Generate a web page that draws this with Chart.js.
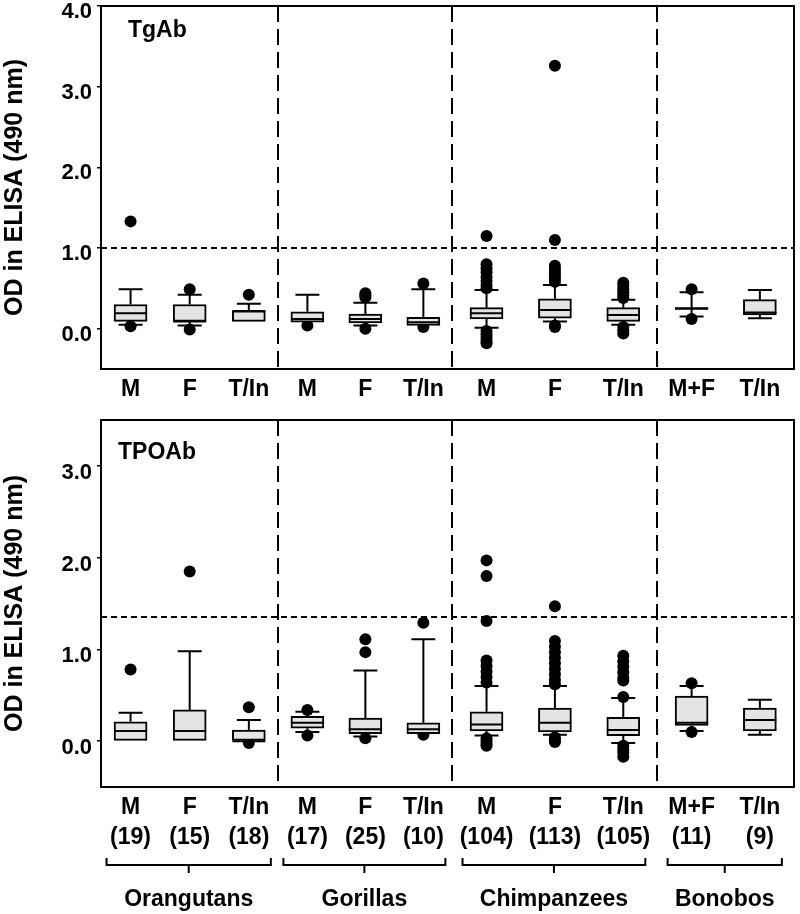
<!DOCTYPE html>
<html>
<head>
<meta charset="utf-8">
<script src="https://cdn.jsdelivr.net/npm/chart.js@4.4.1/dist/chart.umd.min.js"></script>
<style>
  html, body { margin: 0; padding: 0; background: #fff; }
  #wrap { position: relative; width: 800px; height: 914px; }
  #tg { position: absolute; left: 0; top: 0; }
  #tpo { position: absolute; left: 0; top: 410px; }
</style>
</head>
<body>
<div id="wrap">
  <canvas id="tg" width="800" height="410"></canvas>
  <canvas id="tpo" width="800" height="504"></canvas>
</div>
<script>
// ------------------- DATOS -------------------
const categories = ['M', 'F', 'T/In', 'M', 'F', 'T/In', 'M', 'F', 'T/In', 'M+F', 'T/In'];
const groups = ['Orangutans', 'Gorillas', 'Chimpanzees', 'Bonobos'];
const groupSizes = [3, 3, 3, 2];
const sampleSizes = [19, 15, 18, 17, 25, 10, 104, 113, 105, 11, 9];

// TgAb (OD 490 nm)
const tgLow  = [0.05, 0.04, 0.09, 0.08, 0.04, 0.04, 0.01, 0.09, 0.05, 0.15, 0.13];
const tgQ1   = [0.09, 0.09, 0.09, 0.08, 0.07, 0.04, 0.12, 0.13, 0.09, 0.24, 0.17];
const tgMed  = [0.19, 0.09, 0.22, 0.12, 0.12, 0.08, 0.19, 0.23, 0.17, 0.25, 0.20];
const tgQ3   = [0.30, 0.30, 0.22, 0.21, 0.18, 0.14, 0.26, 0.37, 0.26, 0.26, 0.36];
const tgHigh = [0.49, 0.42, 0.31, 0.42, 0.32, 0.49, 0.48, 0.54, 0.36, 0.45, 0.48];
const tgOutliers = [
  [1.33, 0.03],
  [0.49, -0.01],
  [0.42],
  [0.04],
  [0.44, 0.41, 0.39, 0.0],
  [0.56, 0.02],
  [1.15, 0.80, 0.75, 0.70, 0.64, 0.59, 0.54, 0.50, -0.03, -0.07, -0.11, -0.15, -0.18],
  [3.26, 1.10, 0.78, 0.74, 0.70, 0.66, 0.62, 0.58, 0.04, 0.02],
  [0.57, 0.53, 0.49, 0.45, 0.41, 0.38, 0.02, -0.02, -0.06],
  [0.49, 0.12],
  []
];
const tgCutoff = 1.0;
const tgTicks = [0, 1, 2, 3, 4];

// TPOAb (OD 490 nm)
const tpoLow  = [0.0, 0.0, 0.0, 0.10, 0.05, 0.08, 0.06, 0.07, -0.02, 0.11, 0.07];
const tpoQ1   = [0.0, 0.0, 0.0, 0.14, 0.08, 0.08, 0.11, 0.10, 0.06, 0.17, 0.11];
const tpoMed  = [0.11, 0.11, 0.0, 0.20, 0.13, 0.13, 0.18, 0.20, 0.12, 0.20, 0.23];
const tpoQ3   = [0.21, 0.34, 0.12, 0.27, 0.25, 0.20, 0.32, 0.36, 0.26, 0.49, 0.36];
const tpoHigh = [0.31, 0.98, 0.23, 0.32, 0.77, 1.11, 0.60, 0.60, 0.47, 0.60, 0.45];
const tpoOutliers = [
  [0.78],
  [1.85],
  [0.37, -0.02],
  [0.34, 0.06],
  [1.11, 0.97, 0.03],
  [1.29, 0.07],
  [1.97, 1.80, 1.31, 0.88, 0.82, 0.76, 0.70, 0.64, 0.03, 0.0, -0.03, -0.05],
  [1.47, 1.09, 1.03, 0.97, 0.91, 0.85, 0.79, 0.73, 0.67, 0.62, 0.04, 0.01, -0.01],
  [0.93, 0.87, 0.81, 0.75, 0.69, 0.66, 0.48, -0.05, -0.09, -0.13, -0.17],
  [0.63, 0.10],
  []
];
const tpoCutoff = 1.35;
const tpoTicks = [0, 1, 2, 3];

// ------------------- LAYOUT -------------------
// bordes de cada grupo en el eje x (0 - 100)
const groupEdges = [0, 25.6, 50.7, 80.3, 100];
const xPos = [];
groupSizes.forEach((n, g) => {
  let a = groupEdges[g], b = groupEdges[g + 1];
  for (let i = 0; i < n; i++) xPos.push(a + (i + 0.5) * (b - a) / n);
});

const FONT = "'Liberation Sans', Arial, sans-serif";
const BOX_W = 33;
const CAP_W = 24;

function boxPlugin(s) {
  return {
    id: 'boxParts',
    beforeDatasetsDraw(chart) {
      const { ctx, chartArea: a, scales: { x, y } } = chart;
      ctx.save();
      ctx.strokeStyle = '#000';
      // linea de corte
      ctx.lineWidth = 2;
      ctx.setLineDash([6, 4]);
      let yc = Math.round(y.getPixelForValue(s.cutoff));
      ctx.beginPath(); ctx.moveTo(a.left, yc); ctx.lineTo(a.right, yc); ctx.stroke();
      // separadores de grupos
      ctx.setLineDash([16, 7]);
      groupEdges.slice(1, -1).forEach(e => {
        let px = Math.round(x.getPixelForValue(e));
        ctx.beginPath(); ctx.moveTo(px, a.top); ctx.lineTo(px, a.bottom); ctx.stroke();
      });
      ctx.setLineDash([]);
      // bigotes
      xPos.forEach((v, i) => {
        let px = x.getPixelForValue(v);
        let yl = y.getPixelForValue(s.low[i]), yq1 = y.getPixelForValue(s.q1[i]);
        let yq3 = y.getPixelForValue(s.q3[i]), yh = y.getPixelForValue(s.high[i]);
        ctx.beginPath();
        ctx.moveTo(px, yq3); ctx.lineTo(px, yh);
        ctx.moveTo(px - CAP_W / 2, yh); ctx.lineTo(px + CAP_W / 2, yh);
        if (s.low[i] < s.q1[i]) {
          ctx.moveTo(px, yq1); ctx.lineTo(px, yl);
          ctx.moveTo(px - CAP_W / 2, yl); ctx.lineTo(px + CAP_W / 2, yl);
        }
        ctx.stroke();
      });
      ctx.restore();
    },
    afterDatasetsDraw(chart) {
      const { ctx, scales: { x, y } } = chart;
      ctx.save();
      ctx.strokeStyle = '#000';
      ctx.lineWidth = 2;
      xPos.forEach((v, i) => {
        let px = x.getPixelForValue(v);
        let ym = y.getPixelForValue(s.med[i]);
        ctx.beginPath(); ctx.moveTo(px - BOX_W / 2, ym); ctx.lineTo(px + BOX_W / 2, ym); ctx.stroke();
      });
      ctx.restore();
    },
    afterDraw(chart) {
      const { ctx, chartArea: a, scales: { x } } = chart;
      ctx.save();
      ctx.strokeStyle = '#000';
      ctx.lineWidth = 2;
      ctx.strokeRect(a.left, a.top, a.right - a.left, a.bottom - a.top);
      ctx.fillStyle = '#000';
      ctx.font = 'bold 23px ' + FONT;
      ctx.textAlign = 'left';
      ctx.textBaseline = 'middle';
      ctx.fillText(s.title, a.left + s.titleDx, a.top + s.titleDy);
      if (s.braces) {
        let k = 0;
        groups.forEach((g, gi) => {
          let x0 = x.getPixelForValue(xPos[k]) - 24;
          let x1 = x.getPixelForValue(xPos[k + groupSizes[gi] - 1]) + 22;
          k += groupSizes[gi];
          let yb = a.bottom + 78, xm = (x0 + x1) / 2;
          ctx.beginPath();
          ctx.moveTo(x0, yb - 7); ctx.lineTo(x0, yb); ctx.lineTo(x1, yb); ctx.lineTo(x1, yb - 7);
          ctx.moveTo(xm, yb); ctx.lineTo(xm, yb + 8);
          ctx.stroke();
          ctx.textAlign = 'center';
          ctx.fillText(g, xm, a.bottom + 113);
        });
      }
      ctx.restore();
    }
  };
}

function makeChart(id, s) {
  let boxes = xPos.map((v, i) => ({ x: v, y: [s.q1[i], s.q3[i]] }));
  let dots = [];
  s.outliers.forEach((arr, i) => arr.forEach(v => dots.push({ x: xPos[i], y: v })));
  return new Chart(document.getElementById(id).getContext('2d'), {
    type: 'bar',
    data: {
      datasets: [{
        data: boxes,
        backgroundColor: '#e4e4e4',
        borderColor: '#000',
        borderWidth: 2,
        borderSkipped: false,
        barThickness: BOX_W
      }, {
        type: 'scatter',
        data: dots,
        pointRadius: 6,
        pointBackgroundColor: '#000',
        pointBorderColor: '#000',
        pointBorderWidth: 0
      }]
    },
    options: {
      responsive: false,
      animation: false,
      events: [],
      layout: { padding: { top: s.padTop, right: 5, left: 0, bottom: 0 } },
      plugins: { legend: { display: false }, tooltip: { enabled: false } },
      scales: {
        x: {
          type: 'linear',
          offset: false,
          min: 0,
          max: 100,
          grid: { display: false, drawTicks: false },
          border: { display: false },
          afterBuildTicks: sc => { sc.ticks = xPos.map(v => ({ value: v })); },
          afterFit: sc => { sc.height = s.xHeight; sc.paddingLeft = 0; sc.paddingRight = 0; },
          ticks: {
            autoSkip: false,
            maxRotation: 0,
            padding: 6,
            color: '#000',
            font: { family: FONT, size: 23, weight: 'bold', lineHeight: 1.28 },
            callback: (v, i) => s.braces ? [categories[i], '(' + sampleSizes[i] + ')'] : categories[i]
          }
        },
        y: {
          min: s.yMin,
          max: s.yMax,
          grid: { drawOnChartArea: false, drawTicks: true, tickLength: 4, color: '#000', lineWidth: 1.5 },
          border: { display: false },
          afterBuildTicks: sc => { sc.ticks = s.ticks.map(v => ({ value: v })); },
          afterFit: sc => { sc.width = 101; sc.paddingTop = 0; sc.paddingBottom = 0; },
          ticks: {
            padding: 5,
            labelOffset: s.labelShift,
            color: '#000',
            font: { family: FONT, size: 22, weight: 'bold' },
            callback: v => v.toFixed(1)
          },
          title: {
            display: true,
            text: 'OD in ELISA (490 nm)',
            color: '#000',
            padding: 0,
            font: { family: FONT, size: 25, weight: 'bold' }
          }
        }
      }
    },
    plugins: [boxPlugin(s)]
  });
}

// ------------------- TgAb -------------------
let chartTg = makeChart('tg', {
  low: tgLow, q1: tgQ1, med: tgMed, q3: tgQ3, high: tgHigh, outliers: tgOutliers,
  cutoff: tgCutoff, ticks: tgTicks, yMin: -0.5, yMax: 4.0, labelShift: 6,
  title: 'TgAb', titleDx: 27, titleDy: 25,
  padTop: 5, xHeight: 41, braces: false
});

// ------------------- TPOAb -------------------
let chartTpo = makeChart('tpo', {
  low: tpoLow, q1: tpoQ1, med: tpoMed, q3: tpoQ3, high: tpoHigh, outliers: tpoOutliers,
  cutoff: tpoCutoff, ticks: tpoTicks, yMin: -0.5, yMax: 3.5, labelShift: 7,
  title: 'TPOAb', titleDx: 17, titleDy: 33,
  padTop: 10, xHeight: 127, braces: true
});
</script>
</body>
</html>
